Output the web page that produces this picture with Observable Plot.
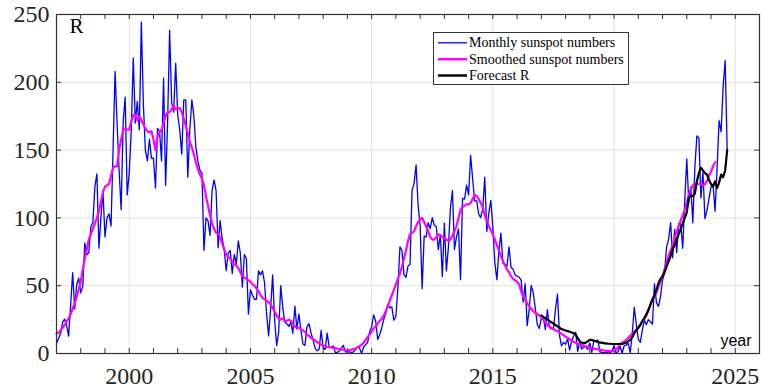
<!DOCTYPE html>
<html><head><meta charset="utf-8">
<script src="https://cdn.jsdelivr.net/npm/d3@7"></script>
<script src="https://cdn.jsdelivr.net/npm/@observablehq/plot@0.6"></script>
<style>
body{margin:0;background:#fff}
#wrap{position:relative;width:761px;height:388px;color:#262626}
#legend{position:absolute;left:433px;top:32px;width:194px;height:51px;border:1px solid #333;background:#fff;box-sizing:content-box}
</style>
</head><body><div id="wrap"></div>
<script>
const startYear = 1997;
// Monthly sunspot numbers, one value per month from Jan 1997
const monthly1997to2005 = [
  7.4, 11.0, 14.5, 23.0, 25.4, 20.8, 12.9, 35.7, 59.7, 32.8, 50.7, 55.5,
  44.7, 49.5, 81.5, 72.7, 74.5, 93.5, 96.5, 123.0, 132.5, 77.7, 100.5, 120.0,
  86.0, 100.0, 103.0, 94.0, 150.0, 208.0, 169.0, 135.0, 106.0, 171.0, 189.0, 117.0,
  133.0, 164.0, 218.0, 170.0, 186.0, 165.0, 244.3, 184.0, 150.0, 142.0, 158.0, 144.0,
  144.0, 122.0, 166.0, 164.0, 142.0, 203.0, 124.0, 170.0, 238.2, 185.0, 178.0, 214.0,
  176.0, 165.0, 147.0, 187.0, 187.0, 130.0, 165.0, 187.0, 175.0, 152.0, 142.0, 135.0,
  133.0, 76.0, 100.0, 98.0, 87.0, 120.0, 128.0, 120.0, 78.0, 98.0, 85.0, 77.0,
  61.0, 74.0, 76.0, 59.0, 73.0, 66.0, 83.0, 74.0, 49.0, 73.0, 70.0, 29.0,
  47.0, 43.0, 40.0, 40.0, 61.0, 58.0, 61.0, 52.0, 29.0, 13.0, 33.0, 58.0
];
const monthly2006to2015 = [
  24.0, 6.0, 16.0, 50.0, 34.0, 23.0, 22.0, 20.0, 23.0, 15.0, 35.0, 18.0,
  29.0, 17.0, 7.0, 6.0, 20.0, 22.0, 15.0, 10.0, 4.0, 2.0, 3.0, 17.0,
  4.2, 3.0, 15.0, 4.4, 4.5, 5.5, 0.8, 0.8, 1.8, 4.0, 6.0, 1.2,
  1.3, 1.2, 0.6, 1.2, 2.9, 5.0, 4.0, 0.0, 4.5, 6.5, 8.0, 16.0,
  19.6, 28.5, 24.0, 10.4, 13.9, 18.8, 25.2, 29.6, 36.4, 33.6, 34.4, 24.5,
  27.3, 48.3, 78.6, 76.1, 58.2, 56.1, 64.5, 65.8, 120.1, 125.7, 139.1, 109.3,
  94.4, 47.8, 86.6, 85.9, 96.5, 92.0, 100.1, 94.8, 93.7, 76.5, 87.6, 56.8,
  96.1, 60.9, 78.3, 107.3, 120.2, 76.7, 86.2, 91.8, 54.5, 114.4, 113.9, 124.2,
  117.0, 146.1, 128.7, 112.5, 112.5, 102.9, 100.2, 106.9, 130.0, 90.0, 103.6, 112.9,
  93.0, 66.7, 54.5, 75.3, 88.8, 66.5, 65.8, 64.4, 78.6, 63.6, 62.2, 58.0
];
const monthly2016to2024 = [
  57.0, 56.4, 54.1, 37.9, 51.5, 20.5, 32.4, 50.2, 44.6, 33.4, 21.4, 18.5,
  26.1, 26.4, 17.7, 32.3, 18.9, 19.2, 17.8, 32.6, 43.7, 13.2, 5.7, 8.2,
  6.8, 10.7, 2.5, 8.9, 13.1, 15.6, 1.6, 8.7, 3.3, 4.9, 4.9, 3.1,
  7.7, 0.8, 9.4, 9.1, 9.9, 1.2, 0.9, 0.5, 1.1, 0.4, 0.5, 1.5,
  6.2, 0.2, 1.5, 5.2, 0.2, 5.8, 6.1, 7.5, 0.6, 14.4, 34.0, 21.8,
  10.4, 8.2, 17.2, 24.5, 21.2, 25.0, 23.4, 21.8, 51.3, 37.4, 34.8, 41.9,
  54.0, 59.7, 78.5, 84.1, 96.5, 70.5, 91.4, 74.6, 96.0, 95.5, 77.6, 112.8,
  143.6, 110.9, 122.6, 96.4, 137.3, 160.5, 159.1, 114.8, 133.6, 99.4, 105.4, 114.2,
  123.0, 124.7, 104.9, 136.5, 171.7, 163.4, 196.8, 216.0, 150.0
];
// Smoothed sunspot numbers, one value per month from Jan 1997
const smoothed1997to2005 = [
  14.5, 15.5, 17, 19, 21, 23.5, 26, 29, 33, 37, 42, 47,
  53, 62, 70, 77, 84, 88, 92, 96, 100, 105, 112, 119,
  123, 124, 125, 131, 137, 138, 138, 150, 158, 165, 166, 165,
  165, 171, 176, 176, 172, 175, 172, 169, 166, 164, 163, 164,
  158, 150, 160, 163, 165, 170, 175, 178, 178, 180, 183, 180,
  181, 181, 178, 173, 168, 162, 156, 152, 147, 141, 136, 132,
  129, 124, 116, 109, 102, 96, 92, 89, 88, 86, 81, 77,
  73, 71, 70, 68, 66, 65, 63, 60, 57, 56, 55, 54,
  53, 51, 50, 48, 46, 43, 41, 40, 39, 38, 36, 34
];
const smoothed2006to2015 = [
  31, 28, 26, 25, 26, 24, 24, 25, 24, 22, 20, 19,
  19, 18, 17, 16, 14, 13, 11.5, 10.5, 9.5, 8.5, 7.5, 6.5,
  5.8, 5.2, 4.8, 4.6, 4.4, 4.2, 4.0, 3.5, 3.2, 3.0, 2.8, 2.4,
  2.3, 2.5, 2.8, 3.2, 3.6, 4.5, 5.4, 6.5, 8, 10, 12, 14,
  16, 18.5, 20, 22, 24, 25.5, 28, 31, 35, 39, 43, 47,
  51, 55, 59, 64, 70, 76, 83, 88, 89, 90, 94, 97,
  99, 100, 97, 94, 90, 86, 84, 84, 86, 88, 87, 86,
  85, 84, 83, 84, 87, 90, 94, 100, 106, 108, 109, 110,
  110, 111, 114, 117, 116, 114, 111, 108, 102, 98, 94, 91,
  88, 84, 80, 76, 72, 68, 65, 62, 60, 57, 55, 54
];
const smoothed2016to2024 = [
  53, 51, 46, 42, 40, 37, 35, 33, 31, 30, 29, 28,
  27, 25, 23, 21, 20, 18.5, 18, 17, 16.5, 15.5, 14.5, 13.5,
  12.5, 11.5, 10.5, 9.5, 8.7, 8, 7.2, 6.8, 6.2, 5.8, 5.2, 4.8,
  4.3, 3.9, 3.6, 3.3, 3.0, 2.8, 2.5, 2.2, 2.0, 1.9, 1.8, 1.8,
  2.2, 3.0, 4.5, 6.5, 7.8, 9.0, 10, 11.5, 13, 14.5, 16, 17.5,
  19, 21, 23.5, 26, 28, 32, 36, 40, 42, 45, 49, 53,
  57, 62, 67, 72, 76, 80, 85, 90, 94, 98, 102, 106,
  111, 117, 121, 124, 125, 125, 125, 125, 124, 125, 127, 131,
  134, 138, 141
];
// Forecast R, one value per month from Jan 2017
const forecastStartYear = 2017;
const forecastR = [
  28, 27, 26, 25, 24, 23, 22, 21, 20, 19, 18, 17.5,
  17, 16.5, 16, 15.5, 15, 14, 11.5, 9, 8, 7.5, 8, 9,
  10, 10, 9.5, 9, 8.5, 8, 8, 7.5, 7.5, 7.2, 7.2, 7,
  7, 7, 7, 7.2, 7, 7.5, 8, 9, 10, 12, 15, 17,
  19, 21, 24, 26, 29, 32, 36, 40, 43, 47, 52, 55,
  57, 60, 64, 68, 72, 77, 80, 84, 88, 92, 96, 100,
  104, 115, 116, 116, 118, 127, 133, 137, 135, 133, 132, 128,
  125, 123, 127, 122, 126, 132, 130, 135, 150
];
const majorYears = [2000, 2005, 2010, 2015, 2020, 2025];
const minorYears = [1997,1998,1999,2000,2001,2002,2003,2004,2005,2006,2007,2008,2009,2010,2011,2012,2013,2014,2015,2016,2017,2018,2019,2020,2021,2022,2023,2024,2025,2026];
const yTicks = [0, 50, 100, 150, 200, 250];
const legendLabels = ["Monthly sunspot numbers", "Smoothed sunspot numbers", "Forecast R"];
const seriesColors = ["#0000ff", "#ff00ff", "#000000"];

const toRows = (values, y0) => values.map((v, i) => ({t: y0 + i / 12, v}));
const monthlyRows = toRows([...monthly1997to2005, ...monthly2006to2015, ...monthly2016to2024], startYear);
const smoothedRows = toRows([...smoothed1997to2005, ...smoothed2006to2015, ...smoothed2016to2024], startYear);
const forecastRows = toRows(forecastR, forecastStartYear);

const W = 761, H = 388, mL = 56, mR = 2, mT = 14, mB = 35;
const pw = W - mL - mR, ph = H - mT - mB;
const serif = "'Liberation Serif', 'Times New Roman', serif";

const chart = Plot.plot({
  width: W, height: H,
  marginLeft: mL, marginRight: mR, marginTop: mT, marginBottom: mB,
  style: {fontFamily: serif, background: "#fff", color: "#262626", overflow: "visible"},
  x: {domain: [1997, 2026]},
  y: {domain: [0, 250]},
  marks: [
    Plot.gridX(majorYears, {stroke: "#e2e2e2", strokeOpacity: 1}),
    Plot.gridY(yTicks, {stroke: "#e2e2e2", strokeOpacity: 1}),
    Plot.ruleX(minorYears, {insetTop: ph - 5, stroke: "#333"}),
    Plot.ruleX(minorYears, {insetBottom: ph - 5, stroke: "#333"}),
    Plot.ruleY(yTicks, {insetLeft: pw - 5, stroke: "#333"}),
    Plot.ruleY(yTicks, {insetRight: pw - 5, stroke: "#333"}),
    Plot.line(monthlyRows, {x: "t", y: "v", stroke: seriesColors[0], strokeWidth: 1.3}),
    Plot.line(smoothedRows, {x: "t", y: "v", stroke: seriesColors[1], strokeWidth: 2.2}),
    Plot.line(forecastRows, {x: "t", y: "v", stroke: seriesColors[2], strokeWidth: 2.2}),
    Plot.frame({stroke: "#333", strokeWidth: 1.2}),
    Plot.axisX(majorYears, {tickSize: 0, tickPadding: 13, fontSize: 24, fontFamily: serif, tickFormat: d => String(d), label: null}),
    Plot.axisY(yTicks, {tickSize: 0, tickPadding: 7, fontSize: 24, fontFamily: serif, label: null}),
    Plot.text(["R"], {text: d => d, frameAnchor: "top-left", dx: 13, dy: 4, lineAnchor: "top", textAnchor: "start", fontSize: 21, fontFamily: serif, fill: "#000"}),
    Plot.text(["year"], {text: d => d, frameAnchor: "bottom-right", dx: -8, dy: -19, lineAnchor: "top", textAnchor: "end", fontSize: 16, fontFamily: "'Liberation Sans', Arial, sans-serif", fill: "#000"})
  ]
});
const wrap = document.getElementById("wrap");
wrap.appendChild(chart);

// legend box
const lg = document.createElement("div");
lg.id = "legend";
const ns = "http://www.w3.org/2000/svg";
const svg = document.createElementNS(ns, "svg");
svg.setAttribute("width", 194); svg.setAttribute("height", 51);
const widths = [1.3, 2.5, 2.5];
const rowY = [9.8, 26.2, 42.5];
legendLabels.forEach((lab, i) => {
  const ln = document.createElementNS(ns, "line");
  ln.setAttribute("x1", 4); ln.setAttribute("x2", 33);
  ln.setAttribute("y1", rowY[i]); ln.setAttribute("y2", rowY[i]);
  ln.setAttribute("stroke", seriesColors[i]); ln.setAttribute("stroke-width", widths[i]);
  svg.appendChild(ln);
  const tx = document.createElementNS(ns, "text");
  tx.setAttribute("x", 35); tx.setAttribute("y", rowY[i] + 4.6);
  tx.setAttribute("font-family", serif); tx.setAttribute("font-size", 14);
  tx.setAttribute("fill", "#000");
  tx.textContent = lab;
  svg.appendChild(tx);
});
lg.appendChild(svg);
wrap.appendChild(lg);
</script>
</body></html>
